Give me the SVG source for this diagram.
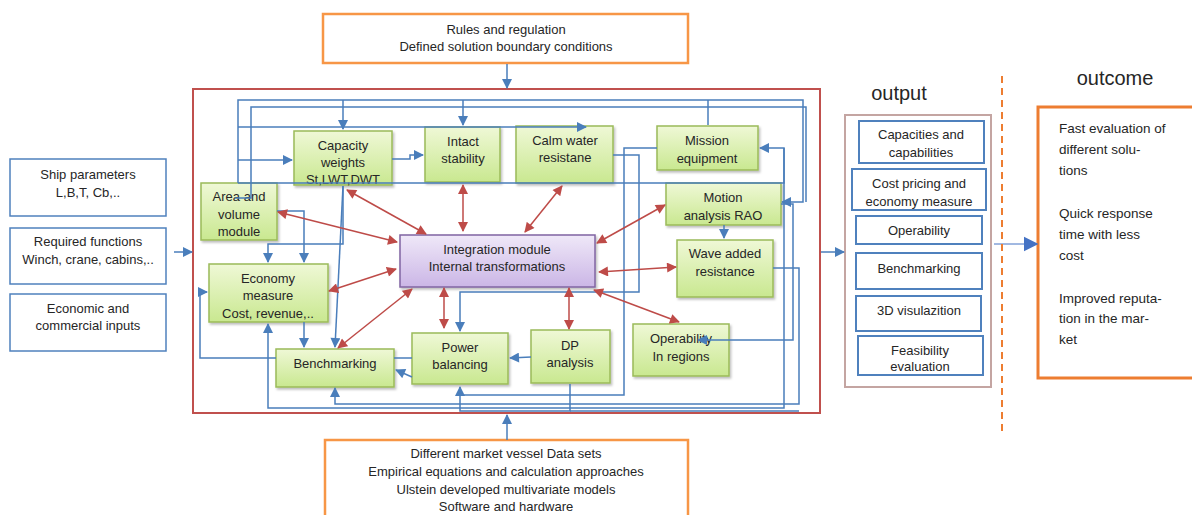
<svg xmlns="http://www.w3.org/2000/svg" width="1192" height="515" viewBox="0 0 1192 515">
<defs>
<linearGradient id="gGreen" x1="0" y1="0" x2="0" y2="1"><stop offset="0" stop-color="#eff8d6"/><stop offset="1" stop-color="#c9e890"/></linearGradient>
<linearGradient id="gPurple" x1="0" y1="0" x2="0" y2="1"><stop offset="0" stop-color="#efe8f8"/><stop offset="1" stop-color="#cbb6e6"/></linearGradient>
<filter id="sh" x="-10%" y="-10%" width="130%" height="130%"><feDropShadow dx="1.5" dy="2" stdDeviation="1.2" flood-color="#000" flood-opacity="0.25"/></filter>
<marker id="ab" viewBox="0 0 10 10" refX="9" refY="5" markerWidth="11" markerHeight="10" markerUnits="userSpaceOnUse" orient="auto"><path d="M0,0 L10,5 L0,10 z" fill="#4a7ebb"/></marker>
<marker id="ar" viewBox="0 0 10 10" refX="9" refY="5" markerWidth="11" markerHeight="10" markerUnits="userSpaceOnUse" orient="auto-start-reverse"><path d="M0,0 L10,5 L0,10 z" fill="#be4b48"/></marker>
<marker id="abig" viewBox="0 0 10 10" refX="9" refY="5" markerWidth="15" markerHeight="16" markerUnits="userSpaceOnUse" orient="auto"><path d="M0,0 L10,5 L0,10 z" fill="#4472c4"/></marker>
<style>
text{font-family:"Liberation Sans",Arial,sans-serif;font-size:13px;fill:#262626;text-anchor:middle}
.node{fill:url(#gGreen);stroke:#9bbb59;stroke-width:1.5;filter:url(#sh)}
.integ{fill:url(#gPurple);stroke:#8064a2;stroke-width:1.5;filter:url(#sh)}
.inbox{fill:#fff;stroke:#4f81bd;stroke-width:1.5}
.outbox{fill:#fff;stroke:#4f81bd;stroke-width:2}
.orange{fill:#fff;stroke:#f79646;stroke-width:2.5}
.blue{fill:none;stroke:#4a7ebb;stroke-width:1.5}
.red{fill:none;stroke:#be4b48;stroke-width:1.5;marker-start:url(#ar);marker-end:url(#ar)}
.ba{marker-end:url(#ab)}
.lab{font-size:20px}
.oc{font-size:13.5px;text-anchor:start}
</style>
</defs>
<rect width="1192" height="515" fill="#fff"/>

<!-- frame -->
<rect id="frame" x="193" y="89" width="627" height="324" fill="none" stroke="#c0504d" stroke-width="2"/>

<!-- top / bottom boxes -->
<g id="rules"><rect class="orange" x="323" y="14" width="365" height="49"/>
<text x="506" y="34">Rules and regulation</text><text x="506" y="51">Defined solution boundary conditions</text></g>
<g id="datasets"><rect class="orange" x="325" y="440" width="363" height="90"/>
<text x="506" y="458">Different market vessel Data sets</text>
<text x="506" y="476">Empirical equations and calculation approaches</text>
<text x="506" y="494">Ulstein developed multivariate models</text>
<text x="506" y="511">Software and hardware</text></g>

<!-- inputs -->
<g id="ship"><rect class="inbox" x="10" y="159" width="156" height="57"/><text x="88" y="179">Ship parameters</text><text x="88" y="197">L,B,T, Cb,..</text></g>
<g id="functions"><rect class="inbox" x="10" y="228" width="156" height="56"/><text x="88" y="246">Required functions</text><text x="88" y="264">Winch, crane, cabins,..</text></g>
<g id="economic"><rect class="inbox" x="10" y="294" width="156" height="57"/><text x="88" y="313">Economic and</text><text x="88" y="330">commercial inputs</text></g>

<!-- nodes -->
<g id="capacity"><rect class="node" x="294" y="131" width="98" height="54"/><text x="343" y="150">Capacity</text><text x="343" y="167">weights</text><text x="343" y="184">St,LWT,DWT</text></g>
<g id="intact"><rect class="node" x="425" y="127" width="75" height="55"/><text x="463" y="146">Intact</text><text x="463" y="163">stability</text></g>
<g id="calm"><rect class="node" x="516" y="126" width="97" height="57"/><text x="565" y="145">Calm water</text><text x="565" y="162">resistane</text></g>
<g id="mission"><rect class="node" x="657" y="126" width="101" height="44"/><text x="707" y="145">Mission</text><text x="707" y="163">equipment</text></g>
<g id="motion"><rect class="node" x="666" y="183" width="115" height="42"/><text x="723" y="202">Motion</text><text x="723" y="220">analysis RAO</text></g>
<g id="wave"><rect class="node" x="677" y="240" width="96" height="57"/><text x="725" y="258">Wave added</text><text x="725" y="276">resistance</text></g>
<g id="area"><rect class="node" x="201" y="183" width="76" height="57"/><text x="239" y="201">Area and</text><text x="239" y="219">volume</text><text x="239" y="236">module</text></g>
<g id="economy"><rect class="node" x="209" y="264" width="119" height="58"/><text x="268" y="283">Economy</text><text x="268" y="300">measure</text><text x="268" y="318">Cost, revenue,..</text></g>
<g id="benchmarking"><rect class="node" x="276" y="349" width="118" height="38"/><text x="335" y="368">Benchmarking</text></g>
<g id="power"><rect class="node" x="412" y="333" width="96" height="51"/><text x="460" y="352">Power</text><text x="460" y="369">balancing</text></g>
<g id="dp"><rect class="node" x="531" y="330" width="79" height="53"/><text x="570" y="350">DP</text><text x="570" y="367">analysis</text></g>
<g id="operability"><rect class="node" x="633" y="324" width="96" height="52"/><text x="681" y="343">Operability</text><text x="681" y="361">In regions</text></g>
<g id="integration"><rect class="integ" x="400" y="235" width="195" height="52"/><text x="497" y="254">Integration module</text><text x="497" y="271">Internal transformations</text></g>

<!-- output -->
<g id="output">
<text class="lab" x="899" y="100">output</text>
<rect x="845" y="115" width="146" height="272" fill="none" stroke="#c4a5a2" stroke-width="2"/>
<rect class="outbox" x="859" y="121" width="125" height="42"/><text x="921" y="139">Capacities and</text><text x="921" y="157">capabilities</text>
<rect class="outbox" x="852" y="169" width="134" height="41"/><text x="919" y="188">Cost pricing and</text><text x="919" y="206">economy measure</text>
<rect class="outbox" x="856" y="216" width="126" height="28"/><text x="919" y="235">Operability</text>
<rect class="outbox" x="856" y="253" width="126" height="36"/><text x="919" y="273">Benchmarking</text>
<rect class="outbox" x="856" y="296" width="125" height="35"/><text x="919" y="315">3D visulazition</text>
<rect class="outbox" x="858" y="336" width="125" height="39"/><text x="920" y="355">Feasibility</text><text x="920" y="371">evaluation</text>
</g>

<!-- outcome -->
<g id="outcome">
<text class="lab" x="1115" y="85">outcome</text>
<rect x="1038" y="107" width="170" height="271" fill="#fff" stroke="#ed7d31" stroke-width="3"/>
<text class="oc" x="1059" y="133">Fast evaluation of</text>
<text class="oc" x="1059" y="154">different solu-</text>
<text class="oc" x="1059" y="175">tions</text>
<text class="oc" x="1059" y="218">Quick response</text>
<text class="oc" x="1059" y="239">time with less</text>
<text class="oc" x="1059" y="260">cost</text>
<text class="oc" x="1059" y="303">Improved reputa-</text>
<text class="oc" x="1059" y="323">tion in the mar-</text>
<text class="oc" x="1059" y="344">ket</text>
</g>

<g id="connectors">
<!-- blue connectors -->
<path class="blue ba" d="M238,183 V100 H803 V202 H782"/>
<path class="blue ba" d="M343,100 V129"/>
<path class="blue ba" d="M463,100 V125"/>
<path class="blue" d="M708,125 V100"/>
<path class="blue" d="M235,198 H251 V107 H806 V202"/>
<path class="blue ba" d="M238,127 H586"/>
<path class="blue ba" d="M238,160 H292"/>
<path class="blue ba" d="M238,183 H784 V148 H760"/>
<path class="blue ba" d="M784,148 V408 H268 V324"/>
<path class="blue ba" d="M392,159 H410 V155 H423"/>
<path class="blue ba" d="M277,211 H304 V262"/>
<path class="blue ba" d="M343,186 V244 H268 V262"/>
<path class="blue ba" d="M343,186 L335,347"/>
<path class="blue ba" d="M304,322 V347"/>
<path class="blue ba" d="M276,358 H200 V292 H207"/>
<path class="blue" d="M394,358 H412"/>
<path class="blue ba" d="M412,377 L396,370"/>
<path class="blue ba" d="M613,155 H639 V292 H460 V331"/>
<path class="blue" d="M657,148 H624 V395 H460"/>
<path class="blue ba" d="M773,268 H799 V404 H335 V388"/>
<path class="blue ba" d="M570,384 V411 H460 V387"/>
<path class="blue" d="M570,411 H799"/>
<path class="blue ba" d="M781,204 H793 V340 H698"/>
<path class="blue ba" d="M531,357 L510,358"/>
<path class="blue ba" d="M724,225 V238"/>
<path class="blue ba" d="M174,252 H192"/>
<path class="blue ba" d="M507,64 V88"/>
<path class="blue ba" d="M507,440 V415"/>
<path class="blue ba" d="M821,252 H844"/>
<path fill="none" stroke="#4472c4" stroke-width="1" marker-end="url(#abig)" d="M994,244 H1037"/>
<!-- red double arrows -->
<path class="red" d="M278,212 L397,242"/>
<path class="red" d="M347,190 L426,234"/>
<path class="red" d="M463,185 L463,231"/>
<path class="red" d="M562,186 L525,232"/>
<path class="red" d="M665,205 L597,243"/>
<path class="red" d="M676,267 L599,272"/>
<path class="red" d="M329,291 L396,269"/>
<path class="red" d="M338,348 L412,289"/>
<path class="red" d="M444,288 L444,328"/>
<path class="red" d="M569,288 L569,329"/>
<path class="red" d="M679,322 L594,290"/>
<!-- dashed divider -->
<line x1="1002" y1="76" x2="1002" y2="433" stroke="#ed7d31" stroke-width="2" stroke-dasharray="7,5"/>
</g>
</svg>
